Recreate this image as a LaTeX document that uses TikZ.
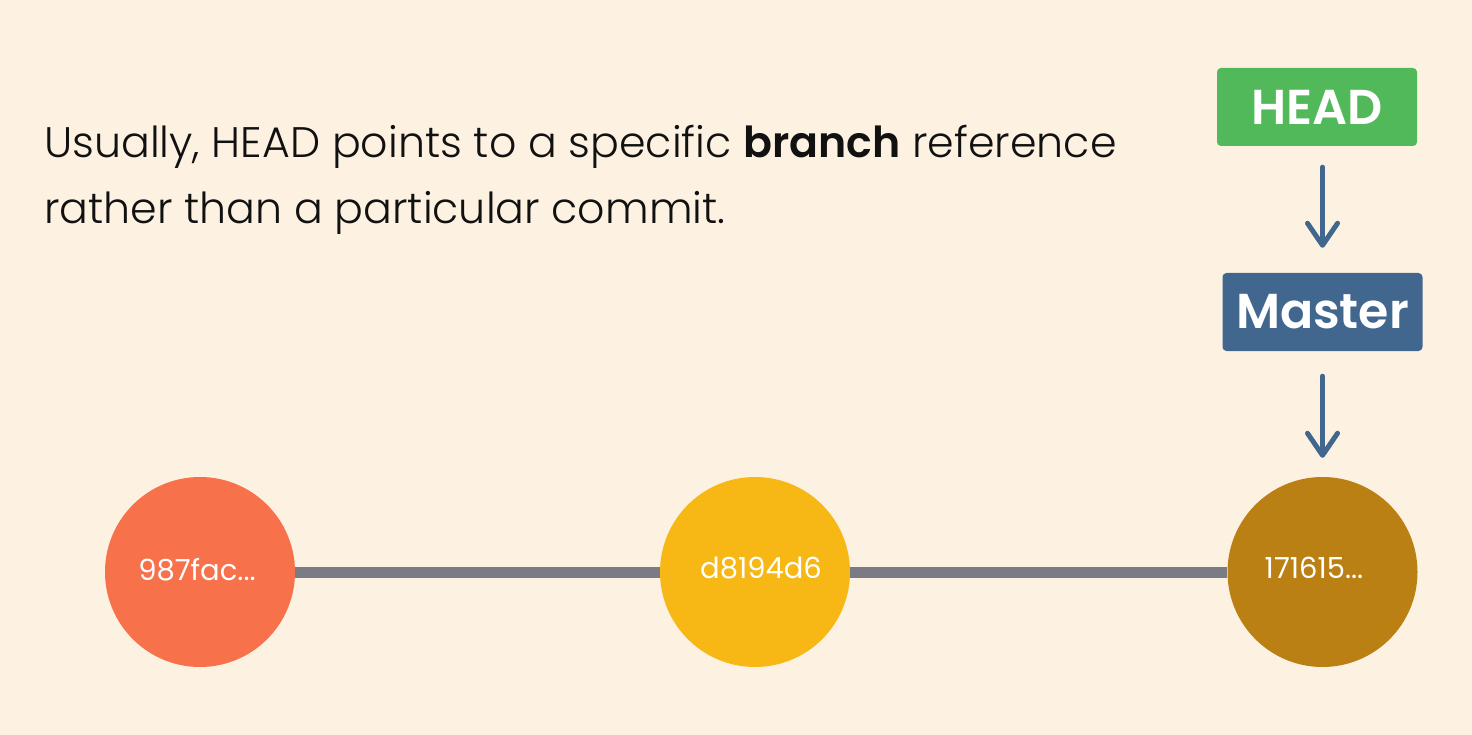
\documentclass[tikz,border=0pt]{standalone}
\usepackage{fontspec}
\setmainfont{Poppins}[UprightFont={* Light}, BoldFont={* SemiBold}]
\newfontfamily\hashfont{Poppins}
\usetikzlibrary{arrows.meta}
\definecolor{bg}{HTML}{FDF2E1}
\definecolor{headgreen}{HTML}{52B95A}
\definecolor{masterblue}{HTML}{41678F}
\definecolor{cone}{HTML}{F7714B}
\definecolor{ctwo}{HTML}{F7B815}
\definecolor{cthree}{HTML}{BB8013}
\definecolor{edgegray}{HTML}{7A7B85}
\definecolor{ink}{HTML}{111111}
\tikzset{
  refbox/.style={rectangle, rounded corners=4pt, minimum width=200pt, minimum height=78pt, inner sep=0pt, text=white, font=\fontsize{49}{56}\selectfont\bfseries},
  commit/.style={circle, minimum size=190pt, inner sep=0pt, draw=none},
  hash/.style={anchor=base, text=white, inner sep=0pt, font=\hashfont\fontsize{29}{36}\selectfont},
  edge/.style={draw=edgegray, line width=11pt},
  arr/.style={draw=masterblue, line width=5pt, line cap=round, -{Straight Barb[length=22pt, width=30pt, round]}},
  body/.style={anchor=base west, inner sep=0pt, text=ink, font=\fontsize{42.7}{66}\selectfont}
}
\begin{document}
\begin{tikzpicture}[x=1pt, y=-1pt]
\fill[bg] (0,0) rectangle (1472,735);
\useasboundingbox (0,0) rectangle (1472,735);
\node[body] (line1) at (44,158) {Usually, HEAD points to a specific \textbf{branch} reference};
\node[body] (line2) at (44,224) {rather than a particular commit.};
\node[refbox, fill=headgreen] (head) at (1317,107) {HEAD};
\node[refbox, fill=masterblue] (master) at (1322.5,312) {Master};
\node[commit, fill=cone] (c1) at (200,572) {};
\node[commit, fill=ctwo] (c2) at (755,572) {};
\node[commit, fill=cthree] (c3) at (1322.5,572) {};
\draw[edge] (c1) -- (c2);
\draw[edge] (c2) -- (c3);
\node[hash] (t1) at (197,580) {987fac...};
\node[hash] (t2) at (761,578) {d8194d6};
\node[hash] (t3) at (1314,578) {171615...};
\draw[arr, shorten <=21pt, shorten >=25pt] (master.north |- head.south) -- (master.north);
\draw[arr, shorten <=25pt, shorten >=19pt] (master.south) -- (c3.north);
\end{tikzpicture}
\end{document}
